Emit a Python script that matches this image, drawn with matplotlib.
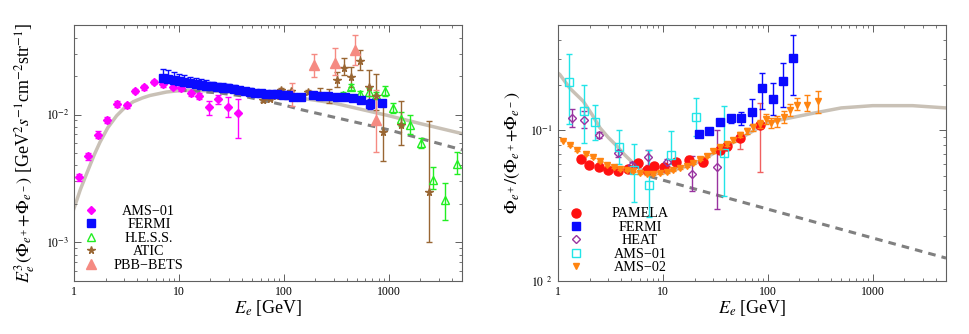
import matplotlib
matplotlib.use("Agg")
import matplotlib.pyplot as plt
from matplotlib.ticker import LogLocator, FixedLocator, FixedFormatter, NullFormatter
import numpy as np

plt.rcParams["font.family"] = ["Liberation Serif", "DejaVu Serif"]
plt.rcParams["mathtext.fontset"] = "stix"

# ---------------- left panel: total e+ + e- flux ----------------
model_tot_E = [1.0, 1.15, 1.32, 1.55, 1.77, 2.1, 2.55, 3.0, 3.67, 4.5, 5.3, 7.6, 11, 20, 50,
               100, 141, 300, 1000, 2000, 5000]
model_tot = [1.85e-3, 2.6e-3, 3.46e-3, 4.8e-3, 6.1e-3, 7.9e-3, 9.8e-3, 1.12e-2, 1.26e-2,
             1.35e-2, 1.41e-2, 1.5e-2, 1.55e-2, 1.53e-2, 1.47e-2, 1.40e-2, 1.35e-2, 1.23e-2,
             9.8e-3, 8.5e-3, 7.1e-3]
bkg_tot_E = [10, 15, 25, 40, 100, 141, 1000, 5000]
bkg_tot = [1.55e-2, 1.52e-2, 1.47e-2, 1.40e-2, 1.19e-2, 1.10e-2, 7.6e-3, 5.3e-3]

ams01_E = [1.12, 1.37, 1.68, 2.05, 2.58, 3.18, 3.81, 4.68, 5.78, 7.08, 8.7, 10.5, 12.9, 15.6,
           19.3, 23.7, 29.1, 36.2]
ams01_v = [3.25e-3, 4.72e-3, 6.98e-3, 9.08e-3, 1.21e-2, 1.18e-2, 1.53e-2, 1.63e-2, 1.79e-2,
           1.72e-2, 1.65e-2, 1.6e-2, 1.47e-2, 1.40e-2, 1.15e-2, 1.32e-2, 1.15e-2, 1.02e-2]
ams01_lo = [3.05e-3, 4.45e-3, 6.6e-3, 8.6e-3, 1.15e-2, 1.12e-2, 1.47e-2, 1.57e-2, 1.72e-2,
            1.65e-2, 1.58e-2, 1.53e-2, 1.40e-2, 1.33e-2, 1.0e-2, 1.2e-2, 0.95e-2, 6.6e-3]
ams01_hi = [3.45e-3, 5.0e-3, 7.4e-3, 9.6e-3, 1.27e-2, 1.24e-2, 1.59e-2, 1.69e-2, 1.86e-2,
            1.79e-2, 1.72e-2, 1.67e-2, 1.54e-2, 1.47e-2, 1.28e-2, 1.41e-2, 1.38e-2, 1.32e-2]

fermi_E = [7.0, 7.9, 8.9, 10.0, 11.3, 12.8, 14.4, 16.2, 18.3, 20.6, 23.2, 26.2, 29.5, 33.2,
           37.4, 42.2, 47.5, 53.5, 60.3, 68, 76.5, 86.3, 97.2, 109, 123, 147, 190, 220, 264,
           318, 381, 457, 549, 670, 871]
fermi_v = [1.93e-2, 1.90e-2, 1.87e-2, 1.83e-2, 1.80e-2, 1.77e-2, 1.74e-2, 1.71e-2, 1.68e-2,
           1.66e-2, 1.64e-2, 1.62e-2, 1.60e-2, 1.58e-2, 1.55e-2, 1.53e-2, 1.51e-2, 1.48e-2,
           1.47e-2, 1.46e-2, 1.45e-2, 1.44e-2, 1.43e-2, 1.42e-2, 1.38e-2, 1.38e-2, 1.41e-2,
           1.40e-2, 1.40e-2, 1.38e-2, 1.37e-2, 1.35e-2, 1.29e-2, 1.22e-2, 1.24e-2]
fermi_lo = [1.88e-2, 1.85e-2, 1.82e-2, 1.79e-2, 1.76e-2, 1.73e-2, 1.70e-2, 1.67e-2, 1.65e-2,
            1.63e-2, 1.61e-2, 1.59e-2, 1.57e-2, 1.55e-2, 1.52e-2, 1.50e-2, 1.48e-2, 1.45e-2,
            1.44e-2, 1.43e-2, 1.42e-2, 1.41e-2, 1.40e-2, 1.39e-2, 1.35e-2, 1.35e-2, 1.38e-2,
            1.37e-2, 1.37e-2, 1.35e-2, 1.34e-2, 1.31e-2, 1.24e-2, 1.11e-2, 1.18e-2]
fermi_hi = [2.29e-2, 2.22e-2, 2.15e-2, 2.08e-2, 2.03e-2, 1.98e-2, 1.93e-2, 1.89e-2, 1.85e-2,
            1.81e-2, 1.78e-2, 1.75e-2, 1.72e-2, 1.69e-2, 1.65e-2, 1.62e-2, 1.60e-2, 1.56e-2,
            1.54e-2, 1.52e-2, 1.51e-2, 1.50e-2, 1.49e-2, 1.47e-2, 1.43e-2, 1.43e-2, 1.46e-2,
            1.45e-2, 1.45e-2, 1.43e-2, 1.42e-2, 1.41e-2, 1.36e-2, 1.33e-2, 1.30e-2]

hess_E = [367, 441, 529, 645, 763, 916, 1099, 1321, 1585, 2028, 2640, 3415, 4470]
hess_v = [1.43e-2, 1.64e-2, 1.45e-2, 1.50e-2, 1.41e-2, 1.53e-2, 1.13e-2, 9.3e-3, 8.3e-3,
          6.0e-3, 3.07e-3, 2.14e-3, 4.14e-3]
hess_lo = [1.36e-2, 1.56e-2, 1.38e-2, 1.40e-2, 1.32e-2, 1.40e-2, 1.03e-2, 8.2e-3, 7.1e-3,
           5.5e-3, 2.6e-3, 1.5e-3, 3.46e-3]
hess_hi = [1.50e-2, 1.72e-2, 1.52e-2, 1.60e-2, 1.50e-2, 1.66e-2, 1.23e-2, 1.05e-2, 1.0e-2,
           6.6e-3, 3.9e-3, 2.92e-3, 5.1e-3]

atic_E = [63.5, 73.6, 83.9, 93.6, 118, 171, 220, 270, 322, 373, 438, 529, 645, 752, 883, 1321, 2404]
atic_v = [1.29e-2, 1.33e-2, 1.40e-2, 1.57e-2, 1.52e-2, 1.50e-2, 1.43e-2, 1.39e-2, 1.85e-2,
          2.33e-2, 1.97e-2, 2.62e-2, 1.63e-2, 1.39e-2, 7.3e-3, 8.35e-3, 2.46e-3]
atic_lo = [1.25e-2, 1.29e-2, 1.36e-2, 1.52e-2, 1.47e-2, 1.45e-2, 1.29e-2, 1.23e-2, 1.63e-2,
           2.05e-2, 1.64e-2, 2.22e-2, 1.22e-2, 1.08e-2, 4.34e-3, 5.76e-3, 1.0e-3]
atic_hi = [1.33e-2, 1.37e-2, 1.44e-2, 1.62e-2, 1.57e-2, 1.55e-2, 1.60e-2, 1.58e-2, 2.15e-2,
           2.77e-2, 2.36e-2, 3.18e-2, 2.25e-2, 2.09e-2, 1.25e-2, 1.27e-2, 8.9e-3]

bets_E = [121, 194, 306, 482, 763]
bets_v = [1.44e-2, 2.43e-2, 2.55e-2, 3.18e-2, 9.0e-3]
bets_lo = [1.16e-2, 1.97e-2, 2.03e-2, 2.43e-2, 5.1e-3]
bets_hi = [1.75e-2, 3.0e-2, 3.33e-2, 4.16e-2, 1.55e-2]

# ---------------- right panel: positron fraction ----------------
model_frac_E = [1.0, 1.04, 1.3, 1.74, 2.1, 2.51, 3.0, 3.62, 4.3, 5.2, 6.2, 7.5, 10, 20, 40,
                100, 270, 500, 1000, 2400, 5000]
model_frac = [0.24, 0.235, 0.19, 0.156, 0.128, 0.104, 0.09, 0.079, 0.069, 0.0607, 0.055,
              0.052, 0.052, 0.060, 0.078, 0.113, 0.130, 0.141, 0.146, 0.146, 0.141]
bkg_frac_E = [7.5, 20, 100, 1000, 5000]
bkg_frac = [0.0494, 0.0409, 0.030, 0.0193, 0.0142]

pamela_E = [1.66, 1.99, 2.48, 2.97, 3.75, 4.61, 5.74, 7.0, 8.27, 10.3, 13.3, 17.8, 24.2, 34.8,
            40.4, 54.1, 83.5]
pamela_v = [0.0648, 0.0591, 0.0568, 0.0548, 0.0534, 0.0553, 0.0607, 0.055, 0.0576, 0.057,
            0.0616, 0.0638, 0.0615, 0.0744, 0.0783, 0.089, 0.108]
pamela_lo = [0.0628, 0.0573, 0.0551, 0.0532, 0.0518, 0.0537, 0.0589, 0.0534, 0.0555, 0.055,
             0.0595, 0.060, 0.058, 0.070, 0.074, 0.0752, 0.0533]
pamela_hi = [0.0668, 0.0609, 0.0585, 0.0564, 0.055, 0.057, 0.0625, 0.0566, 0.0597, 0.059,
             0.0637, 0.0676, 0.0665, 0.079, 0.083, 0.096, 0.152]

fermi_f_E = [22.1, 27.7, 35.0, 44.2, 55.4, 69.9, 87.1, 112, 140, 174]
fermi_f_v = [0.0946, 0.0995, 0.113, 0.120, 0.120, 0.132, 0.191, 0.162, 0.212, 0.303]
fermi_f_lo = [0.0946, 0.0995, 0.110, 0.112, 0.109, 0.109, 0.139, 0.127, 0.144, 0.172]
fermi_f_hi = [0.0946, 0.0995, 0.116, 0.127, 0.132, 0.161, 0.240, 0.207, 0.281, 0.428]

heat_E = [1.37, 1.77, 2.48, 3.70, 5.03, 7.25, 11.0, 18.8, 32.5]
heat_v = [0.120, 0.118, 0.0936, 0.0708, 0.0591, 0.0665, 0.0613, 0.0515, 0.057]
heat_lo = [0.105, 0.104, 0.089, 0.067, 0.056, 0.059, 0.058, 0.0393, 0.030]
heat_hi = [0.139, 0.134, 0.098, 0.074, 0.062, 0.0736, 0.065, 0.0671, 0.100]

ams01_f_E = [1.27, 1.78, 2.25, 3.81, 5.33, 7.36, 11.9, 20.5, 38.4]
ams01_f_v = [0.210, 0.134, 0.113, 0.0776, 0.0548, 0.0431, 0.0690, 0.123, 0.0708]
ams01_f_lo = [0.111, 0.0825, 0.0867, 0.0601, 0.0337, 0.0268, 0.060, 0.0912, 0.0364]
ams01_f_hi = [0.324, 0.201, 0.148, 0.100, 0.0812, 0.0744, 0.099, 0.164, 0.146]

ams02_E = [1.12, 1.29, 1.52, 1.86, 2.14, 2.49, 2.92, 3.38, 3.92, 4.53, 5.24, 6.07, 7.02, 8.12,
           9.40, 10.9, 12.6, 14.6, 16.9, 19.5, 22.6, 26.1, 30.2, 35.0, 40.4, 46.8, 54.2, 62.7,
           72.6, 84.0, 95.7, 108, 123, 143, 164, 188, 234, 301]
ams02_v = [0.0854, 0.0803, 0.0744, 0.0699, 0.0665, 0.0622, 0.0591, 0.0571, 0.0553, 0.0542,
           0.0534, 0.0520, 0.0515, 0.0515, 0.0520, 0.0528, 0.0542, 0.0561, 0.0584, 0.0606,
           0.0644, 0.0678, 0.0725, 0.0775, 0.0815, 0.0867, 0.0936, 0.0985, 0.105, 0.111,
           0.119, 0.112, 0.115, 0.123, 0.137, 0.148, 0.148, 0.156]
ams02_lo = [0.0844, 0.0793, 0.0735, 0.069, 0.0657, 0.0614, 0.0584, 0.0564, 0.0546, 0.0535,
            0.0527, 0.0513, 0.0508, 0.0508, 0.0513, 0.0521, 0.0534, 0.0553, 0.0575, 0.0596,
            0.0632, 0.0664, 0.0708, 0.0755, 0.079, 0.0838, 0.0900, 0.0940, 0.0995, 0.104,
            0.110, 0.103, 0.105, 0.112, 0.125, 0.136, 0.134, 0.131]
ams02_hi = [0.0864, 0.0813, 0.0753, 0.0708, 0.0673, 0.063, 0.0598, 0.0578, 0.056, 0.0549,
            0.0541, 0.0527, 0.0522, 0.0522, 0.0527, 0.0535, 0.055, 0.0569, 0.0593, 0.0616,
            0.0656, 0.0692, 0.0742, 0.0795, 0.084, 0.0896, 0.0972, 0.103, 0.111, 0.118,
            0.128, 0.121, 0.125, 0.134, 0.149, 0.165, 0.173, 0.182]

SOLID = "#c9c1b6"
DASH = "#808080"


def draw_errors(ax, E, v, lo, hi, **kw):
    v = np.asarray(v)
    yerr = [v - np.asarray(lo), np.asarray(hi) - v]
    cont = ax.errorbar(E, v, yerr=yerr, linestyle="none", capsize=2, elinewidth=1.0,
                       capthick=1.0, **kw)
    return cont[0]


def style_axis(ax):
    ax.set_xscale("log")
    ax.set_yscale("log")
    for sp in ax.spines.values():
        sp.set_color("#606060")
        sp.set_linewidth(0.8)
    ax.tick_params(which="both", direction="in", top=True, right=True, colors="#606060",
                   labelcolor="black", labelsize=8.5)
    ax.tick_params(which="major", length=5, width=0.7)
    ax.tick_params(which="minor", length=2.5, width=0.6)
    ax.xaxis.set_major_locator(FixedLocator([1, 10, 100, 1000]))
    ax.xaxis.set_major_formatter(FixedFormatter(["1", "10", "100", "1000"]))
    ax.xaxis.set_minor_locator(LogLocator(base=10, subs=np.arange(2, 10)))
    ax.xaxis.set_minor_formatter(NullFormatter())
    ax.yaxis.set_minor_locator(LogLocator(base=10, subs=np.arange(2, 10)))
    ax.yaxis.set_minor_formatter(NullFormatter())
    ax.set_xlim(1, 5000)
    ax.set_xlabel(r"$E_e$ [GeV]", fontsize=13)
    ax.xaxis.set_label_coords(0.5, -0.068)


def center_legend(fig, leg):
    fig.canvas.draw()
    texts = leg.get_texts()
    widths = [t.get_window_extent().width for t in texts]
    wmax = max(widths)
    for t, w in zip(texts, widths):
        t.set_x((wmax - w) / 2)


fig = plt.figure(figsize=(9.69, 3.34), dpi=100)
axl = fig.add_axes([0.0764, 0.1587, 0.4004, 0.766])
axr = fig.add_axes([0.5759, 0.1587, 0.4004, 0.766])

# left panel
style_axis(axl)
axl.plot(model_tot_E, model_tot, color=SOLID, lw=2.5, zorder=1)
axl.plot(bkg_tot_E, bkg_tot, color=DASH, lw=2.2, dashes=(2.5, 2), zorder=1)
hl = [
    draw_errors(axl, ams01_E, ams01_v, ams01_lo, ams01_hi, marker="D", ms=4.5,
                color="#ff00ff", zorder=3),
    draw_errors(axl, fermi_E, fermi_v, fermi_lo, fermi_hi, marker="s", ms=5.5,
                color="#0a0aff", zorder=4),
    draw_errors(axl, hess_E, hess_v, hess_lo, hess_hi, marker="^", ms=6, mfc="none",
                color="#22ee22", zorder=3),
    draw_errors(axl, atic_E, atic_v, atic_lo, atic_hi, marker="*", ms=5.5,
                color="#996633", zorder=3),
    draw_errors(axl, bets_E, bets_v, bets_lo, bets_hi, marker="^", ms=6.5,
                color="#f58a82", zorder=3),
]
labels_l = ["AMS\u221201", "FERMI", "H.E.S.S.", "ATIC", "PBB\u2212BETS"]
axl.set_ylim(5e-4, 5e-2)
axl.yaxis.set_major_locator(FixedLocator([1e-3, 1e-2]))
axl.yaxis.set_major_formatter(FixedFormatter([r"$10^{-3}$", r"$10^{-2}$"]))
axl.set_ylabel(r"$E_e^3(\Phi_{e^+}\!+\!\Phi_{e^-})$ [GeV$^2 s^{-1}$cm$^{-2}$str$^{-1}$]",
               fontsize=13)
axl.yaxis.set_label_coords(-0.095, 0.5)
legl = axl.legend(hl, labels_l, loc="upper left", bbox_to_anchor=(0.008, 0.325),
                  frameon=False, fontsize=10.2, handletextpad=1.1, labelspacing=0.03,
                  borderpad=0, handlelength=1.0)

# right panel
style_axis(axr)
axr.plot(model_frac_E, model_frac, color=SOLID, lw=2.5, zorder=1)
axr.plot(bkg_frac_E, bkg_frac, color=DASH, lw=2.2, dashes=(2.5, 2), zorder=1)
hr = [
    draw_errors(axr, pamela_E, pamela_v, pamela_lo, pamela_hi, marker="o", ms=6.5,
                color="#ff1010", ecolor="#f06060", zorder=3),
    draw_errors(axr, fermi_f_E, fermi_f_v, fermi_f_lo, fermi_f_hi, marker="s", ms=6,
                color="#0a0aff", zorder=3),
    draw_errors(axr, heat_E, heat_v, heat_lo, heat_hi, marker="D", ms=4, mfc="none",
                color="#9933a0", zorder=3),
    draw_errors(axr, ams01_f_E, ams01_f_v, ams01_f_lo, ams01_f_hi, marker="s", ms=5.5,
                mfc="none", color="#22e5e8", zorder=3),
    draw_errors(axr, ams02_E, ams02_v, ams02_lo, ams02_hi, marker="v", ms=5,
                color="#ff8410", zorder=4),
]
labels_r = ["PAMELA", "FERMI", "HEAT", "AMS\u221201", "AMS\u221202"]
axr.set_ylim(1e-2, 0.5)
axr.yaxis.set_major_locator(FixedLocator([1e-2, 1e-1]))
axr.yaxis.set_major_formatter(FixedFormatter([r"$10^{\ \ 2}$", r"$10^{-1}$"]))
axr.set_ylabel(r"$\Phi_{e^+}/(\Phi_{e^+}\!+\!\Phi_{e^-})$", fontsize=13)
axr.yaxis.set_label_coords(-0.093, 0.5)
legr = axr.legend(hr, labels_r, loc="upper left", bbox_to_anchor=(0.01, 0.315),
                  frameon=False, fontsize=10.2, handletextpad=2.0, labelspacing=0.03,
                  borderpad=0, handlelength=1.0)

center_legend(fig, legl)
center_legend(fig, legr)

fig.savefig("out.png", dpi=100)
plt.close(fig)
